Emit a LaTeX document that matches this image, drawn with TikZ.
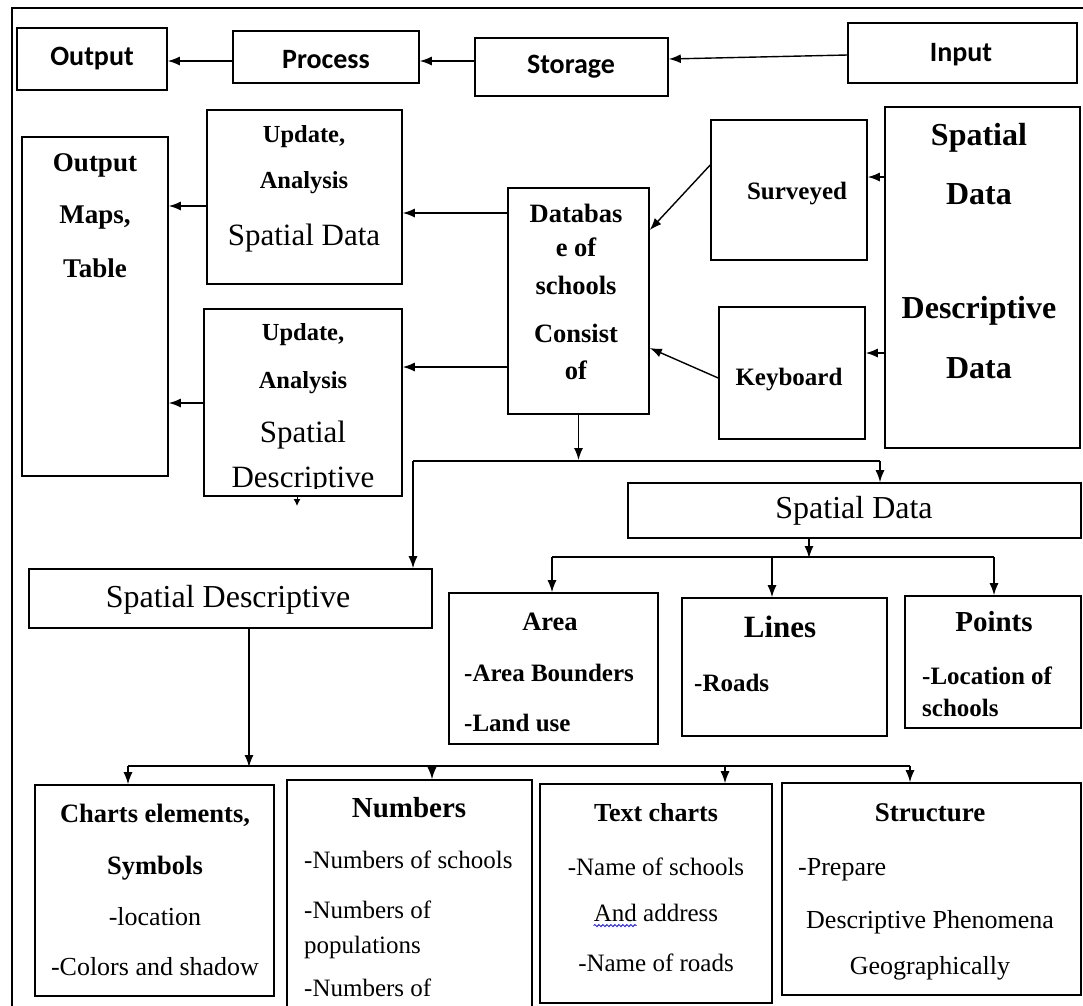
\documentclass[tikz,border=0pt]{standalone}
\usepackage{fontspec}
\setmainfont{Liberation Serif}
\newfontfamily\calfont{Carlito}
\usetikzlibrary{arrows.meta,fit,decorations.pathmorphing}
\newcommand\myfs[1]{\fontsize{#1pt}{#1pt}\selectfont}
\begin{document}
\begin{tikzpicture}[x=1pt,y=-1pt,
  box/.style={draw, line width=1.6pt, inner sep=0pt},
  arr/.style={line width=1.4pt, -{Latex[length=12pt,width=9pt]}},
  ln/.style={line width=1.4pt},
  tx/.style={inner sep=0pt},
  topf/.style={inner sep=0pt, font=\calfont\bfseries\myfs{28}},
  wavy/.style={draw=blue, line width=0.8pt, decorate, decoration={snake, amplitude=1pt, segment length=4pt}}
]
\clip (0,0) rectangle (1083,1005);
\fill[white] (0,0) rectangle (1083,1005);
% outer frame
\draw[line width=1.5pt] (12,1010) -- (12,8) -- (1090,8);

% top row
\node[box, fit={(17,28)(167,90)}] (out) {};
\node[topf] (outT) at (92,59) {Output};
\node[box, fit={(233,31)(419,83)}] (proc) {};
\node[topf] (procT) at (326,60) {Process};
\node[box, fit={(475,38)(668,96)}] (stor) {};
\node[topf] (storT) at (571,67) {Storage};
\node[box, fit={(848,23)(1077,83)}] (inp) {};
\node[topf] (inpT) at (961,55) {Input};
\draw[arr] (proc.west |- 0,61) -- (out.east |- 0,61);
\draw[arr] (stor.west |- 0,61) -- (proc.east |- 0,61);
\draw[arr] (inp.west |- 0,55) -- (stor.east |- 0,59);

% output maps
\node[box, fit={(22,137)(168,476)}] (maps) {};
\node[tx, font=\bfseries\myfs{27}] (mapsA) at (95,165) {Output};
\node[tx, font=\bfseries\myfs{27}] (mapsB) at (95,218) {Maps,};
\node[tx, font=\bfseries\myfs{27}] (mapsC) at (95,268) {Table};

% update boxes
\node[box, fit={(207,110)(402,284)}] (ud1) {};
\node[tx, font=\bfseries\myfs{24.5}] (ud1A) at (304,137) {Update,};
\node[tx, font=\bfseries\myfs{24.5}] (ud1B) at (304,183) {Analysis};
\node[tx, font=\myfs{31}] (ud1C) at (304,238) {Spatial Data};

\node[box, fit={(204,309)(402,496)}] (ud2) {};
\node[tx, font=\bfseries\myfs{24.5}] (ud2A) at (303,335) {Update,};
\node[tx, font=\bfseries\myfs{24.5}] (ud2B) at (303,383) {Analysis};
\node[tx, font=\myfs{31}] (ud2C) at (303,435) {Spatial};
\begin{scope}
\clip (205,310) rectangle (401,488.5);
\node[tx, font=\myfs{31}, anchor=base] (ud2D) at (303,487) {Descriptive};
\end{scope}
\draw[line width=1pt, -{Latex[length=7pt,width=7pt]}] (297,496) -- (297,506);

% database
\node[box, fit={(508,188)(649,414)}] (db) {};
\node[tx, font=\bfseries\myfs{26.5}] (dbA) at (576,213) {Databas};
\node[tx, font=\bfseries\myfs{26.5}] (dbB) at (576,247) {e of};
\node[tx, font=\bfseries\myfs{26.5}] (dbC) at (576,285) {schools};
\node[tx, font=\bfseries\myfs{26.5}] (dbD) at (576,333) {Consist};
\node[tx, font=\bfseries\myfs{26.5}] (dbE) at (576,370) {of};

% surveyed / keyboard
\node[box, fit={(711,120)(867,260)}] (surv) {};
\node[tx, font=\bfseries\myfs{25}] (survT) at (797,194) {Surveyed};
\node[box, fit={(719,307)(865,439)}] (keyb) {};
\node[tx, font=\bfseries\myfs{25}] (keybT) at (789,380) {Keyboard};

% spatial / descriptive data
\node[box, fit={(885,107)(1080,448)}] (sdd) {};
\node[tx, font=\bfseries\myfs{32}] (sddA) at (979,138) {Spatial};
\node[tx, font=\bfseries\myfs{32}] (sddB) at (979,194) {Data};
\node[tx, font=\bfseries\myfs{32}] (sddC) at (979,311) {Descriptive};
\node[tx, font=\bfseries\myfs{32}] (sddD) at (979,368) {Data};

% mid arrows
\draw[arr] (ud1.west |- 0,206) -- (maps.east |- 0,206);
\draw[arr] (ud2.west |- 0,403) -- (maps.east |- 0,403);
\draw[arr] (db.west |- 0,213) -- (ud1.east |- 0,213);
\draw[arr] (db.west |- 0,367) -- (ud2.east |- 0,367);
\draw[arr] (sdd.west |- 0,177) -- (surv.east |- 0,177);
\draw[arr] (sdd.west |- 0,353) -- (keyb.east |- 0,353);
\draw[arr] (surv.west |- 0,165) -- (db.east |- 0,230);
\draw[arr] (keyb.west |- 0,378) -- (db.east |- 0,348);

% spatial data / spatial descriptive
\node[box, fit={(628,483)(1081,538)}] (sdata) {};
\node[tx, font=\myfs{32}] (sdataT) at (854,511) {Spatial Data};
\node[box, fit={(29,569)(432,628)}] (sdesc) {};
\node[tx, font=\myfs{32}] (sdescT) at (228,600) {Spatial Descriptive};

\coordinate (hl) at (413,461);
\coordinate (hr) at (880,461);
\draw[arr] (db.south) -- (db.south |- 0,460);
\draw[ln] (hl) -- (hr);
\draw[arr] (hr) -- (hr |- sdata.north);
\draw[arr] (hl) -- (hl |- sdesc.north);

% area / lines / points
\node[box, fit={(449,593)(658,744)}] (area) {};
\node[tx, font=\bfseries\myfs{26.5}] (areaA) at (550,622) {Area};
\node[tx, font=\bfseries\myfs{25}, anchor=west] (areaB) at (464,673) {-Area Bounders};
\node[tx, font=\bfseries\myfs{25}, anchor=west] (areaC) at (464,723) {-Land use};

\node[box, fit={(682,598)(887,736)}] (lines) {};
\node[tx, font=\bfseries\myfs{31}] (linesA) at (780,627) {Lines};
\node[tx, font=\bfseries\myfs{25}, anchor=west] (linesB) at (694,683) {-Roads};

\node[box, fit={(905,596)(1081,728)}] (points) {};
\node[tx, font=\bfseries\myfs{29}] (pointsA) at (994,622) {Points};
\node[tx, font=\bfseries\myfs{25}, anchor=west] (pointsB) at (922,676) {-Location of};
\node[tx, font=\bfseries\myfs{25}, anchor=west] (pointsC) at (922,708) {schools};

\coordinate (sl) at (552,557);
\coordinate (sr) at (994,557);
\draw[arr] (sdata.south -| 809,0) -- (809,558);
\draw[ln] (sl) -- (sr);
\draw[arr] (sl) -- (sl |- area.north);
\draw[arr] (772,557) -- (772,0 |- lines.north);
\draw[arr] (sr) -- (sr |- points.north);

% bottom boxes
\node[box, fit={(35,785)(274,996)}] (charts) {};
\node[tx, font=\bfseries\myfs{26.5}] (chartsA) at (155,815) {Charts elements,};
\node[tx, font=\bfseries\myfs{26.5}] (chartsB) at (155,868) {Symbols};
\node[tx, font=\myfs{26}] (chartsC) at (155,917) {-location};
\node[tx, font=\myfs{26}] (chartsD) at (155,967) {-Colors and shadow};

\node[box, fit={(287,780)(532,1030)}] (nums) {};
\node[tx, font=\bfseries\myfs{29}] (numsA) at (409,808) {Numbers};
\node[tx, font=\myfs{25}, anchor=west] (numsB) at (304,860) {-Numbers of schools};
\node[tx, font=\myfs{25}, anchor=west] (numsC) at (304,910) {-Numbers of};
\node[tx, font=\myfs{25}, anchor=west] (numsD) at (304,947) {populations};
\node[tx, font=\myfs{25}, anchor=west] (numsE) at (304,988) {-Numbers of};

\node[box, fit={(540,784)(772,1003)}] (textc) {};
\node[tx, font=\bfseries\myfs{26}] (textcA) at (656,813) {Text charts};
\node[tx, font=\myfs{25}] (textcB) at (656,867) {-Name of schools};
\node[tx, font=\myfs{25}] (textcC) at (656,913) {And address};
\node[tx, font=\myfs{25}] (textcD) at (656,963) {-Name of roads};
\draw[wavy] ([yshift=-4pt]textcC.base west) -- ++(43,0);

\node[box, fit={(782,783)(1081,995)}] (struct) {};
\node[tx, font=\bfseries\myfs{27}] (structA) at (930,813) {Structure};
\node[tx, font=\myfs{26}, anchor=west] (structB) at (798,870) {-Prepare};
\node[tx, font=\myfs{26}] (structC) at (930,922) {Descriptive Phenomena};
\node[tx, font=\myfs{26}] (structD) at (930,968) {Geographically};

\coordinate (bl) at (128,766);
\coordinate (br) at (910,766);
\draw[arr] (sdesc.south -| 249,0) -- (249,767);
\draw[ln] (bl) -- (br);
\draw[arr] (bl) -- (bl |- charts.north);
\draw[arr] (432,766) -- (432,0 |- nums.north);
\draw[arr] (725,766) -- (725,0 |- textc.north);
\draw[arr] (br) -- (br |- struct.north);
\end{tikzpicture}
\end{document}
